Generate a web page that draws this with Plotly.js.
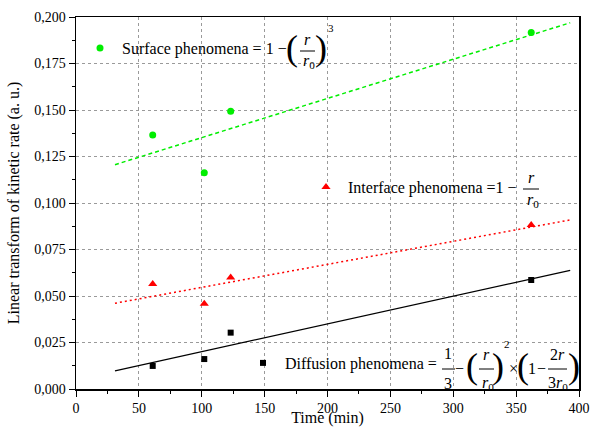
<!DOCTYPE html>
<html>
<head>
<meta charset="utf-8">
<script src="https://cdn.plot.ly/plotly-3.0.1.min.js"></script>
<style>
  html, body { margin: 0; padding: 0; background: #ffffff; }
  #chart { width: 592px; height: 427px; }
</style>
</head>
<body>
<div id="chart"></div>
<script>
// Sampling times (min) and linearised kinetic rates for each mechanism
const timeMin = [61, 102, 123, 362];
const surfaceRate = [0.1366, 0.1163, 0.1493, 0.1916];
const interfaceRate = [0.0565, 0.0459, 0.0600, 0.0882];
const diffusionRate = [0.0124, 0.0161, 0.0303, 0.0586];

// Linear fits, given by their end points
const fitTime = [31, 393];
const surfaceFit = [0.1206, 0.1969];
const interfaceFit = [0.0461, 0.0909];
const diffusionFit = [0.0098, 0.0638];

// Legend captions
const surfaceName = 'Surface phenomena = 1 \u2212';
const interfaceName = 'Interface phenomena =1 \u2212';
const diffusionName = 'Diffusion phenomena =';

const xTickVals = [0, 50, 100, 150, 200, 250, 300, 350, 400];

const SERIF = 'Liberation Serif';
const GREEN = '#00ee00';
const RED = '#ff0000';

// Plot area in pixels, used to place the formula pieces
const W = 592, H = 427;
const M = { l: 76, r: 13, t: 17, b: 38 };
const pw = W - M.l - M.r, ph = H - M.t - M.b;
const fx = px => (px - M.l) / pw;
const fy = py => (H - M.b - py) / ph;

const traces = [
  { x: fitTime, y: surfaceFit, mode: 'lines', showlegend: false, hoverinfo: 'skip',
    line: { color: GREEN, width: 1.5, dash: '4px,3px' } },
  { x: fitTime, y: interfaceFit, mode: 'lines', showlegend: false, hoverinfo: 'skip',
    line: { color: RED, width: 1.5, dash: '2px,3px' } },
  { x: fitTime, y: diffusionFit, mode: 'lines', showlegend: false, hoverinfo: 'skip',
    line: { color: '#000000', width: 1.3 } },
  { x: timeMin, y: surfaceRate, mode: 'markers', name: surfaceName, legend: 'legend',
    marker: { symbol: 'circle', size: 7, color: GREEN } },
  { x: timeMin, y: interfaceRate, mode: 'markers', name: interfaceName, legend: 'legend2',
    marker: { symbol: 'triangle-up', size: 8, color: RED } },
  { x: timeMin, y: diffusionRate, mode: 'markers', name: diffusionName, legend: 'legend3',
    marker: { symbol: 'square', size: 6, color: '#000000' } }
];

function legendAt(px, py) {
  return {
    x: fx(px), y: fy(py), xanchor: 'left', yanchor: 'middle',
    bgcolor: 'rgba(0,0,0,0)', borderwidth: 0, itemwidth: 34,
    font: { family: SERIF, size: 16, color: '#000000' },
    itemclick: false, itemdoubleclick: false
  };
}

// Formula pieces: [text, x px, y px, font size]
const pieces = [
  // 1 - (r/r0)^3
  ['(', 292, 48, 36], ['<i>r</i>', 307, 40, 16], ['<i>r</i><sub>0</sub>', 309, 61, 16],
  [')', 321, 48, 36], ['3', 331, 28, 11],
  // 1 - r/r0
  ['<i>r</i>', 531, 178, 16], ['<i>r</i><sub>0</sub>', 533, 200, 16],
  // 1/3 - (r/r0)^2 x (1 - 2r/3r0)
  ['1', 448, 353, 16], ['3', 448, 383, 16], ['\u2212', 459, 368, 16],
  ['(', 472, 366, 36], ['<i>r</i>', 486, 354, 16], ['<i>r</i><sub>0</sub>', 488, 383, 16],
  [')', 498, 366, 36], ['2', 507, 344, 11], ['\u00d7', 513, 368, 16],
  ['(', 523, 366, 36], ['1', 532, 368, 16], ['\u2212', 541, 368, 16],
  ['2<i>r</i>', 557, 354, 16], ['3<i>r</i><sub>0</sub>', 558, 383, 16],
  [')', 574, 366, 36]
];

// Fraction bars: [x0 px, x1 px, y px]
const bars = [[300, 315, 51], [523, 539, 189], [442, 455, 369], [479, 494, 369], [548, 567, 369]];

const annotations = pieces.map(([t, x, y, s]) => ({
  text: t, x: fx(x), y: fy(y), xref: 'paper', yref: 'paper',
  xanchor: 'center', yanchor: 'middle', showarrow: false,
  font: { family: SERIF, size: s, color: '#000000' }
}));

const shapes = bars.map(([x0, x1, y]) => ({
  type: 'line', xref: 'paper', yref: 'paper',
  x0: fx(x0), x1: fx(x1), y0: fy(y), y1: fy(y),
  line: { color: '#000000', width: 1 }
}));

const axisCommon = {
  showline: true, linecolor: '#000000', linewidth: 1.5, mirror: true,
  ticks: 'outside', ticklen: 6, tickwidth: 1, tickcolor: '#000000',
  showgrid: true, gridcolor: '#9a9a9a', gridwidth: 1, griddash: 'dot',
  zeroline: false, tickfont: { family: SERIF, size: 14, color: '#000000' }
};

const layout = {
  width: W, height: H, margin: M, autosize: false,
  paper_bgcolor: '#ffffff', plot_bgcolor: '#ffffff',
  separators: ',.',
  font: { family: SERIF, color: '#000000' },
  xaxis: Object.assign({}, axisCommon, {
    range: [0, 400], tickvals: xTickVals, ticktext: xTickVals.map(String),
    minor: { dtick: 25, ticks: 'outside', ticklen: 3, tickcolor: '#000000', showgrid: false },
    title: { text: 'Time (min)', font: { family: SERIF, size: 16 }, standoff: 0 }
  }),
  yaxis: Object.assign({}, axisCommon, {
    range: [0, 0.2], dtick: 0.025, tick0: 0, tickformat: '.3f',
    minor: { dtick: 0.0125, ticks: 'outside', ticklen: 3, tickcolor: '#000000', showgrid: false },
    title: { text: 'Linear transform of kinetic rate (a. u.)', font: { family: SERIF, size: 16 }, standoff: 10 }
  }),
  legend: legendAt(78, 48),
  legend2: legendAt(304, 187),
  legend3: legendAt(241, 363),
  annotations: annotations,
  shapes: shapes
};

Plotly.newPlot('chart', traces, layout, { displayModeBar: false, staticPlot: true });
</script>
</body>
</html>
